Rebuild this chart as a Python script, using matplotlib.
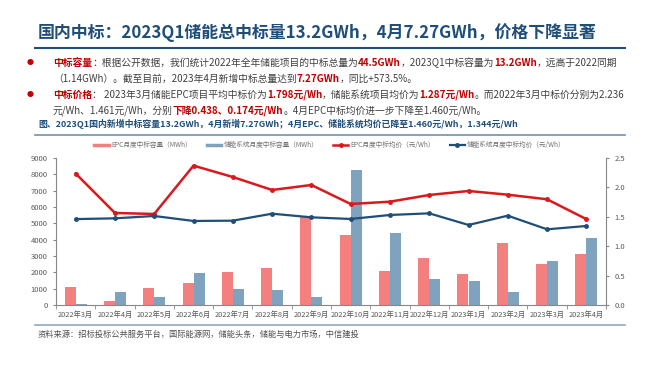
import matplotlib
matplotlib.use("Agg")
import matplotlib.pyplot as plt
import numpy as np
from matplotlib.lines import Line2D

plt.rcParams['font.family'] = ['Noto Sans CJK SC', 'DejaVu Sans']

# ---- data ----
months = ["2022年3月", "2022年4月", "2022年5月", "2022年6月", "2022年7月", "2022年8月",
          "2022年9月", "2022年10月", "2022年11月", "2022年12月", "2023年1月", "2023年2月",
          "2023年3月", "2023年4月"]
epc_mwh = [1080, 250, 1040, 1320, 2040, 2280, 5450, 4270, 2060, 2900, 1880, 3780, 2510, 3140]
sys_mwh = [50, 800, 510, 1960, 960, 900, 510, 8270, 4390, 1570, 1490, 780, 2690, 4080]
epc_price = [2.236, 1.565, 1.548, 2.370, 2.177, 1.956, 2.041, 1.718, 1.757, 1.871, 1.939, 1.876, 1.798, 1.460]
sys_price = [1.461, 1.474, 1.514, 1.429, 1.434, 1.553, 1.491, 1.463, 1.531, 1.559, 1.361, 1.519, 1.287, 1.344]

left_ticks = [0, 1000, 2000, 3000, 4000, 5000, 6000, 7000, 8000, 9000]
right_ticks = [0.0, 0.5, 1.0, 1.5, 2.0, 2.5]

legend_names = ["EPC月度中标容量（MWh）", "储能系统月度中标容量（MWh）",
                "EPC月度中标均价（元/Wh）", "储能系统月度中标均价（元/Wh）"]

title = "国内中标：2023Q1储能总中标量13.2GWh，4月7.27GWh，价格下降显著"
caption = "图、2023Q1国内新增中标容量13.2GWh，4月新增7.27GWh；4月EPC、储能系统均价已降至1.460元/Wh，1.344元/Wh"
source = "资料来源：招标投标公共服务平台，国际能源网，储能头条，储能与电力市场，中信建投"

RED = "#d9191c"
DARK = "#1f4e79"
BAR_RED = "#f47f7f"
BAR_BLUE = "#7fa2bf"
TXT = "#404040"

# bullet text pieces: (text, color, bold)
lines = [
    [("中标容量", "#c00000", True), ("：根据公开数据，我们统计2022年全年储能项目的中标总量为", TXT, False),
     ("44.5GWh", "#c00000", True), ("，2023Q1中标容量为", TXT, False), ("13.2GWh", "#c00000", True),
     ("，远高于2022同期", TXT, False)],
    [("（1.14GWh）。截至目前，2023年4月新增中标总量达到", TXT, False), ("7.27GWh", "#c00000", True),
     ("，同比+573.5%。", TXT, False)],
    [("中标价格", "#c00000", True), ("： 2023年3月储能EPC项目平均中标价为", TXT, False),
     ("1.798元/Wh", "#c00000", True), ("，储能系统项目均价为", TXT, False), ("1.287元/Wh", "#c00000", True),
     ("。而2022年3月中标价分别为2.236", TXT, False)],
    [("元/Wh、1.461元/Wh，分别", TXT, False), ("下降0.438、0.174元/Wh", "#c00000", True),
     ("。4月EPC中标均价进一步下降至1.460元/Wh。", TXT, False)],
]

W, H = 660, 372
fig = plt.figure(figsize=(6.6, 3.72), dpi=100)
renderer = fig.canvas.get_renderer()


def px(x, y):
    return x / W, 1 - y / H


def fit_text(x, y, s, width, size, **kw):
    t = fig.text(*px(x, y), s, fontsize=size, va="center", ha="left", **kw)
    wnow = t.get_window_extent(renderer).width
    t.set_fontsize(size * width / wnow)
    return t


fit_text(38, 33, title, 560, 14, fontweight="bold", color=DARK)
fig.add_artist(Line2D([35 / W, 625 / W], [1 - 48 / H] * 2, color=DARK, lw=1.5))

line_y = [63, 79, 95, 111]
fs = 7.3
for k in range(2):
    # scale font so that the first line spans ~570 px like the reference
    x = 0
    tmp = []
    for s, c, b in lines[0]:
        t = fig.text(0, 0, s, fontsize=fs, fontweight="bold" if b else "normal")
        x += t.get_window_extent(renderer).width
        tmp.append(t)
    for t in tmp:
        t.remove()
    fs = fs * 568 / x

for i, segs in enumerate(lines):
    x = 53
    if i in (0, 2):
        fig.text(*px(30, line_y[i]), "●", fontsize=5, color="#c00000", va="center", ha="center")
    for s, c, b in segs:
        t = fig.text(*px(x, line_y[i]), s, fontsize=fs, color=c,
                     fontweight="bold" if b else "normal", va="center", ha="left")
        x += t.get_window_extent(renderer).width

fit_text(38, 124, caption, 480, 6.6, fontweight="bold", color=DARK)
fig.add_artist(Line2D([35 / W, 625 / W], [1 - 135 / H] * 2, color="#6f93ad", lw=1.2))
fig.add_artist(Line2D([35 / W, 625 / W], [1 - 325 / H] * 2, color="#8fa9bc", lw=1.2))
fit_text(38, 334, source, 322, 6.3, style="italic", color="#505050")

# ---- chart ----
ax = fig.add_axes([56 / W, 1 - 305 / H, 550 / W, 147 / H])
x = np.arange(len(months))
w = 0.28
ax.bar(x - w / 2, epc_mwh, w, color=BAR_RED, label=legend_names[0], zorder=2)
ax.bar(x + w / 2, sys_mwh, w, color=BAR_BLUE, label=legend_names[1], zorder=2)
ax.set_ylim(0, 9000)
ax.set_xlim(-0.5, len(months) - 0.5)
ax.set_yticks(left_ticks)
ax.set_xticks(x)
ax.set_xticklabels(months)
ax.set_xticks(np.arange(-0.5, len(months)), minor=True)
ax.tick_params(axis="x", which="major", length=0, labelsize=5.3, colors="#595959", pad=4)
ax.tick_params(axis="x", which="minor", length=3, color="#888888")
ax.tick_params(axis="y", labelsize=5.5, colors="#595959", length=2.5, color="#888888")
for s in ["top", "right"]:
    ax.spines[s].set_visible(False)
for s in ["left", "bottom"]:
    ax.spines[s].set_color("#888888")
    ax.spines[s].set_linewidth(0.8)

ax2 = ax.twinx()
ax2.plot(x, epc_price, color=RED, lw=1.8, marker="o", ms=2.5, label=legend_names[2], zorder=3)
ax2.plot(x, sys_price, color=DARK, lw=1.6, marker="o", ms=2.5, label=legend_names[3], zorder=3)
ax2.set_ylim(0, 2.5)
ax2.set_yticks(right_ticks)
ax2.set_yticklabels([f"{v:.1f}" for v in right_ticks])
ax2.tick_params(axis="y", labelsize=5.5, colors="#595959", length=2.5, color="#888888")
for s in ["top", "left", "bottom"]:
    ax2.spines[s].set_visible(False)
ax2.spines["right"].set_color("#888888")
ax2.spines["right"].set_linewidth(0.8)

handles = [Line2D([], [], color=BAR_RED, lw=2.5), Line2D([], [], color=BAR_BLUE, lw=2.5),
           Line2D([], [], color=RED, lw=1.8, marker="o", ms=2.5),
           Line2D([], [], color=DARK, lw=1.6, marker="o", ms=2.5)]
fig.legend(handles, legend_names, loc="center", bbox_to_anchor=(330 / W, 1 - 145 / H), ncol=4,
           frameon=False, fontsize=4.8, labelcolor="#707070", handlelength=2.2,
           columnspacing=2.2, handletextpad=0.4)

fig.savefig("out.png", dpi=100)
